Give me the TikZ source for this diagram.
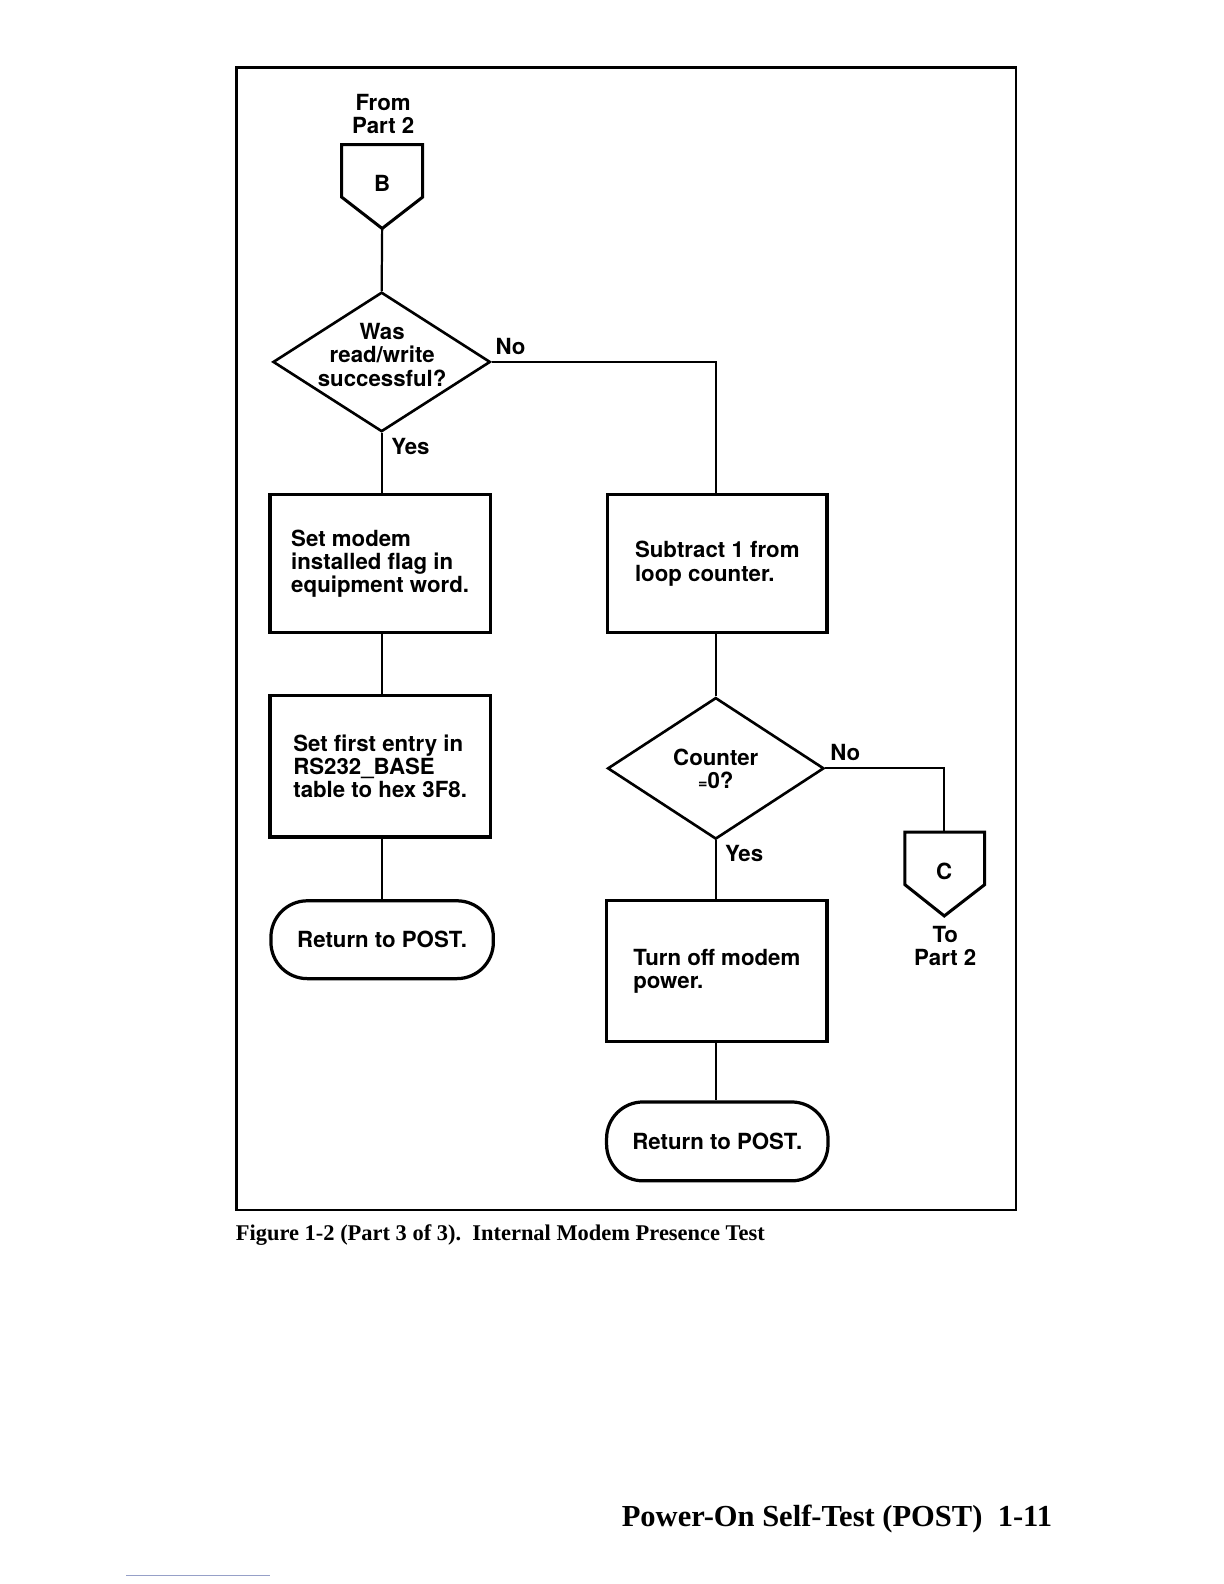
\documentclass[tikz,border=0pt]{standalone}
\usepackage{fontspec}
\setmainfont{TeX Gyre Heros}
\newfontfamily\capserif{Liberation Serif}
\usetikzlibrary{shapes.geometric}
\definecolor{rulegray}{RGB}{150,160,200}
\begin{document}
\begin{tikzpicture}[x=0.5pt,y=-0.5pt,
  txt/.style={font=\fontsize{11}{11.5}\selectfont\bfseries, inner sep=0pt, align=center},
  procbox/.style={draw, line width=1.6pt, inner sep=0pt, align=left, font=\fontsize{11}{11.5}\selectfont\bfseries},
  decision/.style={draw, diamond, line width=1.3pt, inner sep=0pt},
  term/.style={draw, line width=1.6pt, rounded corners=18pt, inner sep=0pt, font=\fontsize{11}{11.5}\selectfont\bfseries},
  offpage/.style={draw, line width=1.5pt, line join=miter},
  conn/.style={line width=1.1pt},
]
\useasboundingbox (0,0) rectangle (1210.7,1566.8);
% frame
\draw[line width=1.3pt] (234,67) rectangle (1005,1197);

% off-page connector B
\node[txt] (from) at (379,113) {From\\Part 2};
\draw[offpage] (338,143) -- (418,143) -- (418,195) -- (378,226) -- (338,195) -- cycle;
\coordinate (Btip) at (378,226);
\node[txt] (B) at (378,181) {B};

% decision 1
\node[decision, minimum width=107.5pt, minimum height=69pt] (d1) at (377.5,358) {};
\node[txt] (d1t) at (378,351) {Was\\read/write\\successful?};
\node[txt] (no1) at (505,343) {No};
\node[txt] (yes1) at (406,442) {Yes};

% left column
\node[procbox, minimum width=109pt, minimum height=68.5pt] (b1) at (376,557.5) {Set modem\\installed flag in\\equipment word.};
\node[procbox, minimum width=109pt, minimum height=70pt] (b2) at (376,758) {Set first entry in\\RS232\_BASE\\table to hex 3F8.};
\node[term, minimum width=110pt, minimum height=38.5pt] (t1) at (378,929.5) {Return to POST.};

% right column
\node[procbox, minimum width=108.5pt, minimum height=68.5pt] (b3) at (709.5,557.5) {Subtract 1 from\\loop counter.};
\node[decision, minimum width=107pt, minimum height=70pt] (d2) at (708,760) {};
\node[txt] (d2t) at (708,760.5) {Counter\\{\fontsize{8}{8}\selectfont =}0?};
\node[txt] (no2) at (836,744) {No};
\node[txt] (yes2) at (736,844) {Yes};
\node[procbox, minimum width=109pt, minimum height=69.5pt] (b4) at (709,960.5) {Turn off modem\\power.};
\node[term, minimum width=109.5pt, minimum height=39pt] (t2) at (709.5,1129) {Return to POST.};

% off-page connector C
\coordinate (Ctop) at (934,823);
\draw[offpage] (895,823) -- (974,823) -- (974,875) -- (934,906) -- (895,875) -- cycle;
\node[txt] (C) at (934,861.5) {C};
\node[txt] (to) at (935,936) {To\\Part 2};

% connectors
\draw[conn] (Btip) -- (d1.north);
\draw[conn] (d1.south) -- (d1.south |- b1.north);
\draw[conn] (b1.south -| d1.south) -- (d1.south |- b2.north);
\draw[conn] (b2.south -| d1.south) -- (d1.south |- t1.north);
\draw[conn] (d1.east) -| (d2.north |- b3.north);
\draw[conn] (b3.south -| d2.north) -- (d2.north);
\draw[conn] (d2.south) -- (d2.south |- b4.north);
\draw[conn] (b4.south -| d2.south) -- (d2.south |- t2.north);
\draw[conn] (d2.east) -| (Ctop);

% caption and footer
\node[anchor=west, inner sep=0pt, font=\capserif\fontsize{11.1}{13}\selectfont\bfseries] (cap) at (233,1222) {Figure 1-2 (Part 3 of 3).\ \ Internal Modem Presence Test};
\node[anchor=east, inner sep=0pt, font=\capserif\fontsize{15.1}{17}\selectfont\bfseries] (foot) at (1041,1502) {Power-On Self-Test (POST)\ \ 1-11};
\draw[line width=0.5pt, rulegray] (125,1558) -- (267,1558);
\end{tikzpicture}
\end{document}
